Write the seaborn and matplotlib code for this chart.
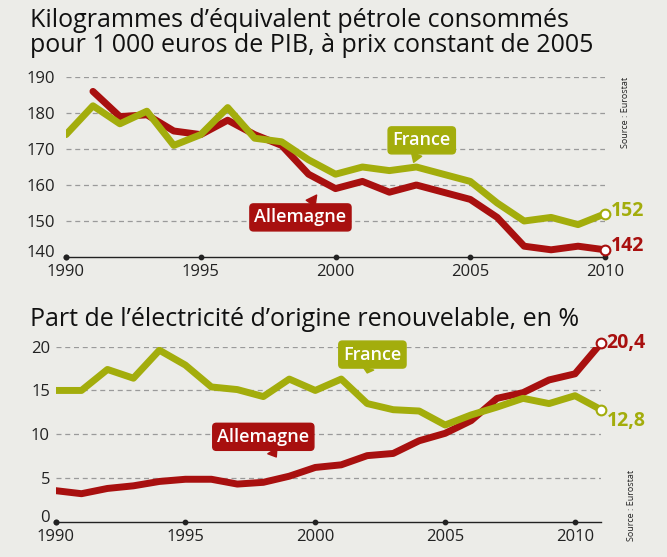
import pandas as pd
import matplotlib.pyplot as plt
import seaborn as sns

# Energy intensity (kgoe per 1000 EUR of GDP), 1990-2010
years_top = list(range(1990, 2011))
france_top = [174, 182, 177, 180.5, 171, 174, 181.5, 173, 172, 167, 163,
              165, 164, 165, 163, 161, 155, 150, 151, 149, 152]
germany_top = [None, 186, 179, 179.5, 175, 174, 178, 174, 171, 163, 159,
               161, 158, 160, 158, 156, 151, 143, 142, 143, 142]

# Share of renewable electricity (%), 1990-2011
years_bot = list(range(1990, 2012))
france_bot = [15, 15, 17.4, 16.4, 19.6, 17.9, 15.4, 15.1, 14.3, 16.3, 15,
              16.3, 13.5, 12.8, 12.65, 11.05, 12.2, 13.1, 14.1, 13.5, 14.4, 12.8]
germany_bot = [3.55, 3.2, 3.8, 4.1, 4.6, 4.85, 4.85, 4.3, 4.5, 5.2, 6.2,
               6.5, 7.55, 7.8, 9.25, 10.1, 11.55, 14.1, 14.75, 16.2, 16.9, 20.4]

top_ticks = [140, 150, 160, 170, 180, 190]
bot_ticks = [0, 5, 10, 15, 20]
x_ticks = [1990, 1995, 2000, 2005, 2010]

GREEN = "#a3ad0c"
RED = "#a8100f"
BG = "#ecece8"

sns.set_style("white")
plt.rcParams["font.family"] = ["Open Sans", "DejaVu Sans"]

top = pd.DataFrame({"year": years_top * 2,
                    "value": france_top + germany_top,
                    "pays": ["France"] * len(years_top) + ["Allemagne"] * len(years_top)})
bot = pd.DataFrame({"year": years_bot * 2,
                    "value": france_bot + germany_bot,
                    "pays": ["France"] * len(years_bot) + ["Allemagne"] * len(years_bot)})
palette = {"France": GREEN, "Allemagne": RED}

fig = plt.figure(figsize=(6.67, 5.57), dpi=100, facecolor=BG)
W, H = 667, 557


def px_axes(x0, x1, y_top, y_bot):
    return fig.add_axes([x0 / W, 1 - y_bot / H, (x1 - x0) / W, (y_bot - y_top) / H])


def style_axes(ax, yticks, xlim, ypad):
    ax.set_facecolor("none")
    for s in ["top", "right", "left"]:
        ax.spines[s].set_visible(False)
    ax.spines["bottom"].set_color("#222222")
    ax.spines["bottom"].set_linewidth(1)
    ax.set_xlim(*xlim)
    ax.set_ylim(yticks[0], yticks[-1])
    ax.set_yticks(yticks)
    ax.set_xticks(x_ticks)
    ax.tick_params(axis="both", length=0, labelsize=12, colors="#222222")
    ax.tick_params(axis="y", pad=ypad)
    ax.tick_params(axis="x", pad=5)
    # lowest y label sits on the axis line
    ax.get_yticklabels()[0].set_va("baseline")
    for t in yticks[1:]:
        ax.axhline(t, color="#9a9a9a", lw=0.9, ls=(0, (4, 3)), zorder=0)
    # dots on the axis at each tick
    ax.scatter(x_ticks, [yticks[0]] * len(x_ticks), s=10, color="#222222",
               zorder=5, clip_on=False)
    ax.scatter([xlim[0]], [yticks[0]], s=10, color="#222222", zorder=5, clip_on=False)
    ax.set_xlabel("")
    ax.set_ylabel("")


def bubble(ax, text, xy, xytext, color):
    ax.annotate(text, xy=xy, xytext=xytext, ha="center", va="center",
                fontsize=13, fontweight="semibold", color="white", zorder=6,
                annotation_clip=False,
                bbox=dict(boxstyle="round,pad=0.25,rounding_size=0.2", fc=color, ec=color),
                arrowprops=dict(arrowstyle="wedge,tail_width=0.6,shrink_factor=0.5",
                                fc=color, ec=color, shrinkA=0, shrinkB=0))


def end_label(ax, x, y, text, color, dy=0):
    ax.plot([x], [y], marker="o", ms=7, mfc="white", mec=color, mew=1.5,
            zorder=7, clip_on=False)
    ax.annotate(text, xy=(x, y), xytext=(4, dy), textcoords="offset points",
                ha="left", va="center", fontsize=14, fontweight="bold",
                color=color, zorder=7, annotation_clip=False)


# ---- top chart
ax1 = px_axes(66, 605, 77, 257)
sns.lineplot(data=top, x="year", y="value", hue="pays", palette=palette,
             hue_order=["Allemagne", "France"], lw=5, legend=False, ax=ax1,
             solid_capstyle="round", zorder=3)
style_axes(ax1, top_ticks, (1990, 2010), 8)
bubble(ax1, "France", (2002.9, 166.3), (2003.2, 172.4), GREEN)
bubble(ax1, "Allemagne", (1999.3, 157.2), (1998.7, 151.0), RED)
end_label(ax1, years_top[-1], france_top[-1], "152", GREEN, dy=2)
end_label(ax1, years_top[-1], germany_top[-1], "142", RED, dy=3)

# ---- bottom chart
ax2 = px_axes(55.5, 601, 346.7, 521.7)
sns.lineplot(data=bot, x="year", y="value", hue="pays", palette=palette,
             hue_order=["Allemagne", "France"], lw=5, legend=False, ax=ax2,
             solid_capstyle="round", zorder=3)
style_axes(ax2, bot_ticks, (1990, 2011), 4)
bubble(ax2, "France", (2002.0, 17.0), (2002.2, 19.1), GREEN)
bubble(ax2, "Allemagne", (1998.5, 7.4), (1998.0, 9.7), RED)
end_label(ax2, years_bot[-1], germany_bot[-1], "20,4", RED, dy=0)
end_label(ax2, years_bot[-1], france_bot[-1], "12,8", GREEN, dy=-8)

# ---- titles and sources
fig.text(30 / W, 1 - 8 / H,
         "Kilogrammes d\u2019équivalent pétrole consommés\npour 1\u202f000 euros de PIB, à prix constant de 2005",
         ha="left", va="top", fontsize=18, fontweight="medium", color="#111111",
         linespacing=0.98)
fig.text(30 / W, 1 - 320 / H, "Part de l\u2019électricité d\u2019origine renouvelable, en %",
         ha="left", va="center", fontsize=18, fontweight="medium", color="#111111")
fig.text(625 / W, 1 - 112 / H, "Source : Eurostat", rotation=90, ha="center",
         va="center", fontsize=6.5, color="#222222")
fig.text(632 / W, 1 - 505 / H, "Source : Eurostat", rotation=90, ha="center",
         va="center", fontsize=6.5, color="#222222")

fig.savefig("out.png", dpi=100, facecolor=BG)
